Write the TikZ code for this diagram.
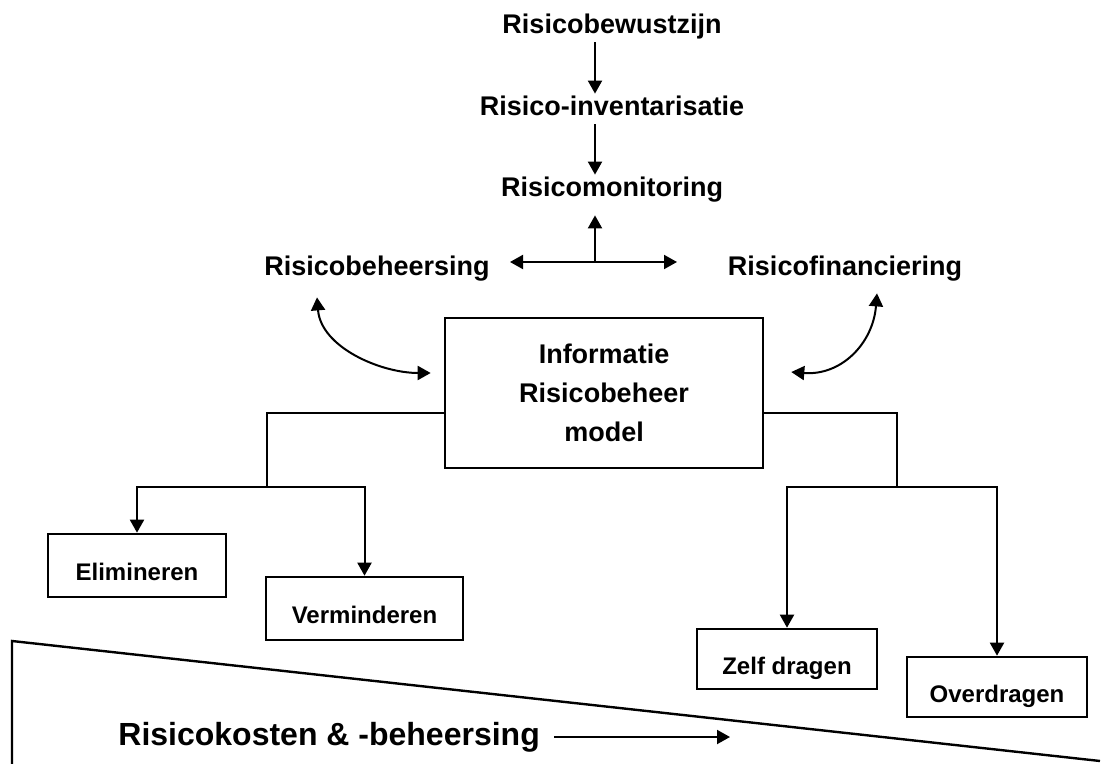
\documentclass[tikz,border=0pt]{standalone}
\usepackage{fontspec}
\setmainfont{Liberation Sans}
\usetikzlibrary{arrows.meta}

\begin{document}
\begin{tikzpicture}[
	x=0.5pt, y=-0.5pt,
	>={Triangle[length=6.5pt,width=7pt]},
	every node/.style={font=\bfseries\fontsize{13.5}{19.5}\selectfont, align=center},
	title/.style={inner sep=1pt, text height=10pt, text depth=3pt},
	infobox/.style={draw, line width=1.3pt, minimum width=159pt, minimum height=75pt},
	keuze/.style={draw, line width=1.3pt, font=\bfseries\fontsize{12}{14}\selectfont, text height=15pt, text depth=0pt, inner sep=0pt}, % text sits a bit low in the boxes
	arr/.style={->, line width=1pt},
	dbl/.style={<->, line width=1pt},
	line/.style={line width=1.2pt},
]
\useasboundingbox (0,0) rectangle (1102,764);

% top chain
\node[title] (bewust) at (612,27) {Risicobewustzijn};
\node[title] (invent) at (612,109) {Risico-inventarisatie};
\node[title] (monitor) at (612,190) {Risicomonitoring};
\node[title] (beheers) at (377,269) {Risicobeheersing};
\node[title] (financ) at (845,269) {Risicofinanciering};

\draw[arr] ([xshift=-8.5pt]bewust.south) -- ([xshift=-8.5pt]invent.north);
\draw[arr] ([xshift=-8.5pt]invent.south) -- ([xshift=-8.5pt]monitor.north);

\coordinate (hub) at (595,262);
\coordinate (hl) at (510,262);
\coordinate (hr) at (677,262);
\draw[dbl] (hl) -- (hr);
\draw[arr] (hub) -- ([xshift=-8.5pt,yshift=-5pt]monitor.south);

% model
\node[infobox] (info) at (604,393) {Informatie\\Risicobeheer\\model};

\draw[dbl] ([shift={(-30pt,-6.5pt)}]beheers.south) .. controls +(2pt,-25pt) and +(-25pt,0pt) .. ([shift={(-6.5pt,10pt)}]info.west);
\draw[dbl] ([shift={(16pt,-4.5pt)}]financ.south) .. controls +(-2pt,-25pt) and +(25pt,-2pt) .. ([shift={(13.5pt,10.5pt)}]info.east);

% choices
\node[keuze, minimum width=89pt, minimum height=31.5pt] (elim) at (137,565.5) {Elimineren};
\node[keuze, minimum width=98.5pt, minimum height=31.5pt] (vermin) at (364.5,608.5) {Verminderen};
\node[keuze, minimum width=90pt, minimum height=30pt] (zelf) at (787,659) {Zelf dragen};
\node[keuze, minimum width=90pt, minimum height=30pt] (over) at (997,687) {Overdragen};

\coordinate (lj) at (267,487);
\coordinate (rj) at (897,487);
\draw[line] ([yshift=-10pt]info.west) -| (lj);
\draw[arr] (lj) -| (elim.north);
\draw[arr] (lj) -| (vermin.north);
\draw[line] ([yshift=-10pt]info.east) -| (rj);
\draw[arr] (rj) -| (zelf.north);
\draw[arr] (rj) -| (over.north);

% wedge
\draw[line] (12,764) -- (12,641) -- (1100,761);
\node[font=\bfseries\fontsize{16}{19}\selectfont, anchor=west, inner sep=0pt] (kosten) at (118,737) {Risicokosten \& -beheersing};
\coordinate (kend) at (730,737);
\draw[arr] ([xshift=7pt]kosten.east) -- (kend);
\end{tikzpicture}
\end{document}
